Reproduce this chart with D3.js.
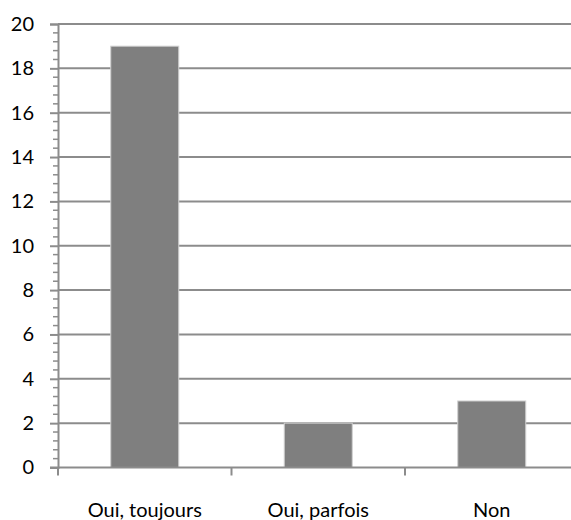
<!DOCTYPE html>
<html>
<head>
<meta charset="utf-8">
<script src="https://cdn.jsdelivr.net/npm/d3@7"></script>
<style>
  html, body { margin: 0; padding: 0; background: #fff; }
  svg { display: block; }
  text { font-family: Lato, "Open Sans", sans-serif; fill: #000; }
</style>
</head>
<body>
<svg id="chart" width="571" height="520"></svg>
<script>
const categories = ["Oui, toujours", "Oui, parfois", "Non"];
const values = [19, 2, 3];
const yTicks = [0, 2, 4, 6, 8, 10, 12, 14, 16, 18, 20];

const svg = d3.select("#chart");
const plotLeft = 58, plotRight = 578.5, plotTop = 24, plotBottom = 467.5;

const x = d3.scaleBand()
  .domain(categories)
  .range([plotLeft, plotRight])
  .paddingInner(0.608)
  .paddingOuter(0.304);

const xCat = d3.scaleBand().domain(categories).range([plotLeft, plotRight]);

const y = d3.scaleLinear().domain([0, 20]).range([plotBottom, plotTop]);

// horizontal gridlines
svg.append("g")
  .selectAll("line")
  .data(yTicks.filter(d => d > 0))
  .join("line")
  .attr("x1", plotLeft).attr("x2", 571)
  .attr("y1", d => y(d)).attr("y2", d => y(d))
  .attr("stroke", "#8c8c8c").attr("stroke-width", 2);

// minor ticks on y axis
const minor = d3.range(0, 20.001, 0.4).filter(d => Math.abs(d / 2 - Math.round(d / 2)) > 1e-6);
svg.append("g")
  .selectAll("line")
  .data(minor)
  .join("line")
  .attr("x1", plotLeft - 5).attr("x2", plotLeft)
  .attr("y1", d => y(d)).attr("y2", d => y(d))
  .attr("stroke", "#8c8c8c").attr("stroke-width", 1.5);

// bars
svg.append("g")
  .selectAll("rect")
  .data(values)
  .join("rect")
  .attr("x", (d, i) => x(categories[i]))
  .attr("width", x.bandwidth())
  .attr("y", d => y(d))
  .attr("height", d => y(0) - y(d))
  .attr("fill", "#7f7f7f")
  .attr("stroke", "#d0d0d0")
  .attr("stroke-width", 1);

// y axis
const yAxis = d3.axisLeft(y).tickValues(yTicks).tickSize(8).tickPadding(16);
const gy = svg.append("g").attr("transform", `translate(${plotLeft},0)`).call(yAxis);
gy.select(".domain").attr("stroke", "#8c8c8c").attr("stroke-width", 2);
gy.selectAll(".tick line").attr("stroke", "#8c8c8c").attr("stroke-width", 2);
gy.selectAll(".tick text").style("font-size", "20px").style("font-family", "Lato, sans-serif").attr("fill", "#000");

// x axis baseline
svg.append("line")
  .attr("x1", plotLeft - 8).attr("x2", 571)
  .attr("y1", y(0)).attr("y2", y(0))
  .attr("stroke", "#8c8c8c").attr("stroke-width", 2);

// category separator ticks
const bounds = categories.map(c => xCat(c)).concat([plotRight]);
svg.append("g")
  .selectAll("line")
  .data(bounds)
  .join("line")
  .attr("x1", d => d).attr("x2", d => d)
  .attr("y1", y(0)).attr("y2", y(0) + 8)
  .attr("stroke", "#8c8c8c").attr("stroke-width", 2);

// category labels
svg.append("g")
  .selectAll("text")
  .data(categories)
  .join("text")
  .attr("x", d => xCat(d) + xCat.bandwidth() / 2)
  .attr("y", 517)
  .attr("text-anchor", "middle")
  .style("font-size", "20px")
  .text(d => d);
</script>
</body>
</html>
